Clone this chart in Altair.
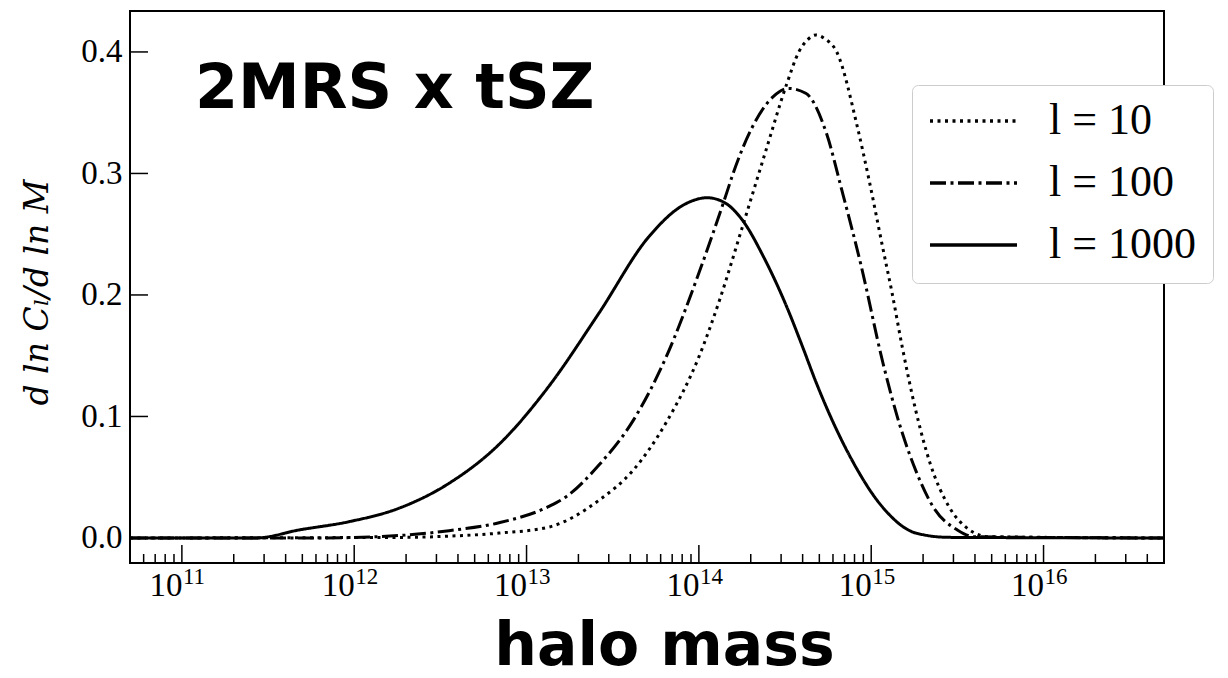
import altair as alt
import pandas as pd

# ---------------- data ----------------
series_names = ["l = 10", "l = 100", "l = 1000"]

mass_l10 = [5e10, 2e12, 3.55e12, 6.92e12, 1.35e13, 2.63e13, 4.17e13, 6.46e13, 1.0e14,
            1.32e14, 1.78e14, 2.45e14, 3.24e14, 3.80e14, 4.27e14, 4.79e14, 5.37e14,
            6.31e14, 8.32e14, 9.77e14, 1.17e15, 1.32e15, 1.51e15, 1.82e15, 2.19e15,
            2.82e15, 3.72e15, 4.79e15, 5e16]
vals_l10 = [0.0, 0.0005, 0.0015, 0.004, 0.009, 0.031, 0.056, 0.095, 0.149,
            0.196, 0.255, 0.319, 0.374, 0.400, 0.410, 0.414, 0.411,
            0.400, 0.338, 0.293, 0.238, 0.202, 0.158, 0.104, 0.062,
            0.026, 0.0066, 0.001, 0.0]

mass_l100 = [5e10, 6e11, 1.82e12, 3.55e12, 6.92e12, 1.35e13, 1.7e13, 2.63e13, 4.17e13,
             6.46e13, 1.0e14, 1.45e14, 1.58e14, 2.04e14, 2.69e14, 3.31e14, 4.17e14,
             5.5e14, 6.76e14, 8.71e14, 1.17e15, 1.45e15, 1.82e15, 2.29e15, 3.16e15,
             3.98e15, 5e16]
vals_l100 = [0.0, 0.0, 0.002, 0.006, 0.0125, 0.026, 0.034, 0.060, 0.097,
             0.149, 0.218, 0.284, 0.300, 0.338, 0.363, 0.370, 0.366,
             0.333, 0.286, 0.225, 0.144, 0.095, 0.055, 0.0255, 0.0066,
             0.001, 0.0]

mass_l1000 = [5e10, 2.69e11, 4.79e11, 9.33e11, 1.82e12, 3.55e12, 6.92e12, 1.35e13,
              2.63e13, 5.13e13, 8.13e13, 1.12e14, 1.41e14, 1.78e14, 2.40e14, 3.24e14,
              3.98e14, 4.79e14, 7.41e14, 1.17e15, 1.82e15, 2.82e15, 5e16]
vals_l1000 = [0.0, 0.0, 0.0066, 0.0134, 0.0245, 0.045, 0.077, 0.125,
              0.185, 0.248, 0.274, 0.280, 0.276, 0.262, 0.230, 0.190,
              0.158, 0.128, 0.069, 0.025, 0.004, 0.0005, 0.0]

x_decades = [1e11, 1e12, 1e13, 1e14, 1e15, 1e16]
x_exponents = ["11", "12", "13", "14", "15", "16"]
y_ticks = [0.0, 0.1, 0.2, 0.3, 0.4]

annotation_text = ["2MRS x tSZ"]
annotation_mass = [1.19e11]
annotation_value = [0.354]

x_domain = [5e10, 5e16]
y_domain = [-0.0206, 0.4337]

# ---------------- tables ----------------
rows = []
for name, ms, vs in zip(series_names, [mass_l10, mass_l100, mass_l1000],
                        [vals_l10, vals_l100, vals_l1000]):
    for m, v in zip(ms, vs):
        rows.append({"series": name, "mass": m, "value": v})
df = pd.DataFrame(rows)

minor_ticks = [m * 10.0 ** k for k in range(10, 17) for m in range(2, 10)
               if x_domain[0] <= m * 10.0 ** k <= x_domain[1]]
df_major = pd.DataFrame({"mass": x_decades, "exp": x_exponents})
df_minor = pd.DataFrame({"mass": minor_ticks})
df_yt = pd.DataFrame({"value": y_ticks})
df_ann = pd.DataFrame({"mass": annotation_mass, "value": annotation_value,
                       "label": annotation_text})

W, H = 1034, 552

x_scale = alt.Scale(type="log", domain=x_domain, nice=False)
y_scale = alt.Scale(domain=y_domain, nice=False, zero=False)

x_axis = alt.Axis(values=x_decades, labelExpr="'10'", labelAlign="right",
                  labelBaseline="alphabetic", labelPadding=32, labelFontSize=33,
                  labelFont="Liberation Serif", labelColor="black", labelFlush=False,
                  labelOverlap=False, ticks=False, tickSize=0, domain=False, grid=False,
                  title="halo mass", titleFont="DejaVu Sans", titleFontWeight="bold",
                  titleFontSize=60, titleColor="black", titleX=534, titleY=101,
                  titleAlign="center", titleBaseline="alphabetic")
y_axis = alt.Axis(values=y_ticks, format=".1f", ticks=False, tickSize=0, domain=False,
                  grid=False, labelFont="Liberation Serif", labelFontSize=33,
                  labelColor="black", labelPadding=8,
                  title="d ln C\u2097/d ln M", titleFont="DejaVu Serif",
                  titleFontStyle="italic", titleFontWeight="normal", titleFontSize=33,
                  titleColor="black", titleX=-93, titleY=281, titleAlign="center",
                  titleBaseline="middle")

X = alt.X("mass:Q", scale=x_scale, axis=x_axis)
Y = alt.Y("value:Q", scale=y_scale, axis=y_axis)

lines = alt.Chart(df).mark_line(strokeWidth=3, interpolate="monotone", color="black",
                                strokeCap="butt").encode(
    x=X, y=Y,
    strokeDash=alt.StrokeDash(
        "series:N",
        scale=alt.Scale(domain=series_names,
                        range=[[3, 4.5], [16, 4.5, 3, 4.5], [1, 0]]),
        legend=alt.Legend(title=None, orient="none", legendX=782, legendY=74,
                          symbolType="stroke", symbolSize=7569, symbolStrokeWidth=3.5,
                          symbolStrokeColor="black", labelFont="Liberation Serif",
                          labelFontSize=44, labelColor="black", labelOffset=30,
                          padding=16, rowPadding=18, clipHeight=40,
                          strokeColor="#cccccc", fillColor="white", cornerRadius=6,
                          labelLimit=400)),
    order=alt.Order("mass:Q"),
)

major = alt.Chart(df_major).mark_rule(color="black", strokeWidth=1.5).encode(
    x=X, y=alt.value(H), y2=alt.value(H - 18))
minor = alt.Chart(df_minor).mark_rule(color="black", strokeWidth=1.5).encode(
    x=X, y=alt.value(H), y2=alt.value(H - 9))
yticks = alt.Chart(df_yt).mark_rule(color="black", strokeWidth=1.5).encode(
    y=Y, x=alt.value(0), x2=alt.value(18))
exps = alt.Chart(df_major).mark_text(align="left", baseline="alphabetic", dx=1,
                                     fontSize=23, font="Liberation Serif",
                                     color="black").encode(
    x=X, y=alt.value(573), text="exp:N")
ann = alt.Chart(df_ann).mark_text(align="left", baseline="alphabetic",
                                  font="DejaVu Sans", fontWeight="bold", fontSize=62,
                                  color="black").encode(
    x=X, y=Y, text="label:N")

chart = alt.layer(lines, minor, major, yticks, exps, ann).properties(
    width=W, height=H,
    autosize=alt.AutoSizeParams(type="none"),
    padding={"left": 130, "top": 11, "right": 64, "bottom": 115},
).configure(background="white").configure_view(stroke="black", strokeWidth=2)

chart.save("out.html", embed_options={"renderer": "svg", "actions": False})
